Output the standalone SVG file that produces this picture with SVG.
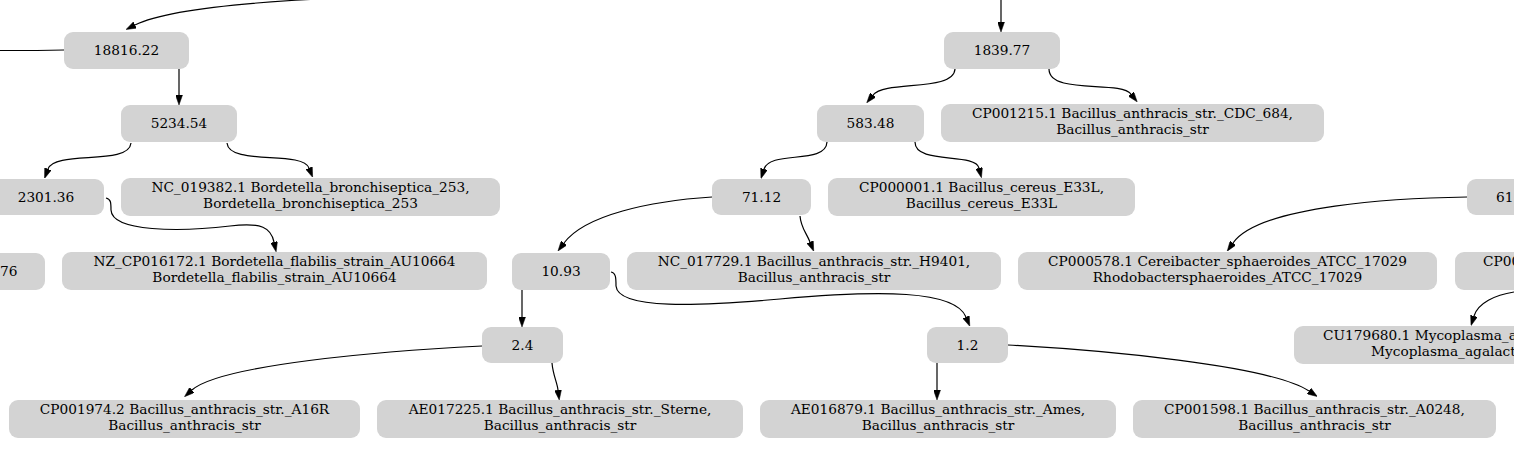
<svg xmlns="http://www.w3.org/2000/svg" width="1514" height="451" viewBox="0 0 1514 451">
<style>
.n rect{fill:#d3d3d3;stroke:none}
.n text{font-family:"DejaVu Serif",serif;font-size:13.7px;fill:#000;text-anchor:middle}
.n text.s{text-anchor:start}
#edges path{fill:none;stroke:#000;stroke-width:1.2}
#edges path.a{marker-end:url(#arr)}
</style>
<defs>
<marker id="arr" viewBox="0 0 10 7" refX="0" refY="3.5" markerUnits="userSpaceOnUse" markerWidth="10" markerHeight="7" orient="auto">
<path d="M0,0 L10,3.5 L0,7 z" fill="#000" stroke="#000" stroke-width="0.5"/>
</marker>
</defs>
<rect width="1514" height="451" fill="#fff"/>
<g id="edges">
<path class="a" d="M318,-1 C240,3 165,10 135,25"/>
<path d="M0,50.5 L37,50.5 L64,50"/>
<path class="a" d="M179,69 V95"/>
<path class="a" d="M1001,0 V22"/>
<path class="a" d="M131,143 C129,166 55,150 48,169"/>
<path class="a" d="M227,143 C229,166 302,150 309,168"/>
<path class="a" d="M106,198 C111,199 111,203 111,210 C112,232 180,232 230,226 C262,222 271,228 274,242"/>
<path class="a" d="M955,69 C954,92 885,80 873,95"/>
<path class="a" d="M1049,69 C1049,95 1120,80 1131,94"/>
<path class="a" d="M827,142 C826,165 770,150 764,169"/>
<path class="a" d="M915,142 C915,165 975,152 979,168"/>
<path class="a" d="M712,197 C650,201 585,215 564,243"/>
<path class="a" d="M800,216 C801,228 806,232 810,242"/>
<path class="a" d="M522,290 V317"/>
<path class="a" d="M611,272 C616,273 616,278 616,286 C618,310 700,306 780,299 C880,290 955,290 966,317"/>
<path class="a" d="M482,346 C380,351 220,365 192,390"/>
<path class="a" d="M552,363 C553,375 557,382 558,390"/>
<path class="a" d="M937,363 V390"/>
<path class="a" d="M1008,345 C1100,350 1270,365 1309,391"/>
<path class="a" d="M1467,197 C1400,198 1260,205 1233,243"/>
<path class="a" d="M1514,292 C1495,295 1478,303 1474,316"/>
</g>
<g id="n18816" class="n"><rect x="64" y="32" width="125" height="37" rx="9"/><text x="126.5" y="55">18816.22</text></g>
<g id="n5234" class="n"><rect x="121" y="105" width="116" height="37" rx="9"/><text x="179" y="128">5234.54</text></g>
<g id="n2301" class="n"><rect x="-12" y="179" width="116" height="36" rx="9"/><text x="46" y="201.5">2301.36</text></g>
<g id="nNC019382" class="n"><rect x="121" y="178" width="379" height="38" rx="9"/><text x="310.5" y="192">NC_019382.1 Bordetella_bronchiseptica_253,</text><text x="310.5" y="207.5">Bordetella_bronchiseptica_253</text></g>
<g id="n76" class="n"><rect x="-60" y="253" width="105" height="37" rx="9"/><text class="s" x="0" y="276">76</text></g>
<g id="nNZCP016172" class="n"><rect x="62" y="252" width="425" height="38" rx="9"/><text x="274.5" y="266">NZ_CP016172.1 Bordetella_flabilis_strain_AU10664</text><text x="274.5" y="281.5">Bordetella_flabilis_strain_AU10664</text></g>
<g id="nCP001974" class="n"><rect x="9" y="400" width="351" height="38" rx="9"/><text x="184.5" y="414">CP001974.2 Bacillus_anthracis_str._A16R</text><text x="184.5" y="429.5">Bacillus_anthracis_str</text></g>
<g id="nAE017225" class="n"><rect x="377" y="400" width="366" height="38" rx="9"/><text x="560" y="414">AE017225.1 Bacillus_anthracis_str._Sterne,</text><text x="560" y="429.5">Bacillus_anthracis_str</text></g>
<g id="n1839" class="n"><rect x="944" y="32" width="116" height="37" rx="9"/><text x="1002" y="55">1839.77</text></g>
<g id="n583" class="n"><rect x="817" y="105" width="107" height="37" rx="9"/><text x="870.5" y="128">583.48</text></g>
<g id="nCP001215" class="n"><rect x="941" y="104" width="383" height="38" rx="9"/><text x="1132.5" y="118">CP001215.1 Bacillus_anthracis_str._CDC_684,</text><text x="1132.5" y="133.5">Bacillus_anthracis_str</text></g>
<g id="n7112" class="n"><rect x="712" y="179" width="99" height="36" rx="9"/><text x="761.5" y="201.5">71.12</text></g>
<g id="nCP000001" class="n"><rect x="828" y="178" width="307" height="38" rx="9"/><text x="981.5" y="192">CP000001.1 Bacillus_cereus_E33L,</text><text x="981.5" y="207.5">Bacillus_cereus_E33L</text></g>
<g id="n1093" class="n"><rect x="512" y="253" width="98" height="37" rx="9"/><text x="561" y="276">10.93</text></g>
<g id="nNC017729" class="n"><rect x="627" y="252" width="374" height="38" rx="9"/><text x="814" y="266">NC_017729.1 Bacillus_anthracis_str._H9401,</text><text x="814" y="281.5">Bacillus_anthracis_str</text></g>
<g id="n24" class="n"><rect x="482" y="327" width="81" height="36" rx="9"/><text x="522.5" y="349.5">2.4</text></g>
<g id="n12" class="n"><rect x="927" y="327" width="81" height="36" rx="9"/><text x="967.5" y="349.5">1.2</text></g>
<g id="nAE016879" class="n"><rect x="760" y="400" width="356" height="38" rx="9"/><text x="938" y="414">AE016879.1 Bacillus_anthracis_str._Ames,</text><text x="938" y="429.5">Bacillus_anthracis_str</text></g>
<g id="nCP001598" class="n"><rect x="1133" y="400" width="363" height="38" rx="9"/><text x="1314.5" y="414">CP001598.1 Bacillus_anthracis_str._A0248,</text><text x="1314.5" y="429.5">Bacillus_anthracis_str</text></g>
<g id="n61" class="n"><rect x="1467" y="179" width="100" height="36" rx="9"/><text class="s" x="1496" y="201.5">61</text></g>
<g id="nCP000578" class="n"><rect x="1018" y="252" width="419" height="38" rx="9"/><text x="1227.5" y="266">CP000578.1 Cereibacter_sphaeroides_ATCC_17029</text><text x="1227.5" y="281.5">Rhodobactersphaeroides_ATCC_17029</text></g>
<g id="nCP00" class="n"><rect x="1455" y="252" width="100" height="38" rx="9"/><text class="s" x="1483" y="266">CP00</text></g>
<g id="nCU179680" class="n"><rect x="1294" y="326" width="300" height="38" rx="9"/><text class="s" x="1323" y="340">CU179680.1 Mycoplasma_a</text><text class="s" x="1371" y="355.5">Mycoplasma_agalact</text></g>
</svg>
